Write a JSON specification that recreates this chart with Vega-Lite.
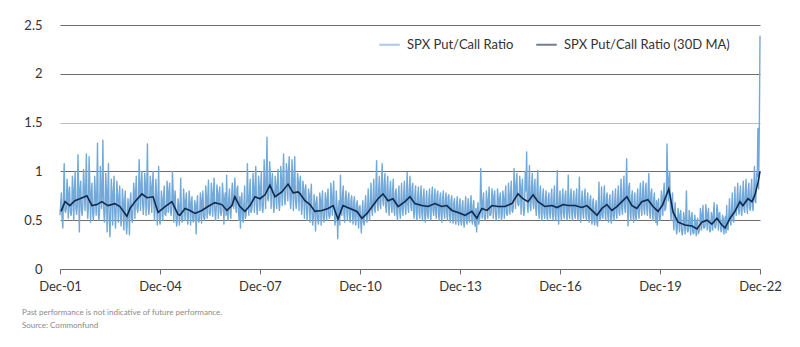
{
"$schema":"https://vega.github.io/schema/vega-lite/v6.json",
"width":700,"height":244,
"autosize":{"type":"none"},
"padding":{"left":60,"top":25,"right":40,"bottom":78},
"background":"white",
"config":{"view":{"stroke":null},"font":"Lato"},
"title":{"text":["Past performance is not indicative of future performance.","Source: Commonfund"],"orient":"bottom","anchor":"start","frame":"group","dx":-38,"offset":16,"fontSize":8,"font":"Lato","fontWeight":"normal","color":"#8a8a8a","lineHeight":13},
"datasets":{
"raw":[
{"d":"2001-12-01","v":0.55},{"d":"2001-12-08","v":0.66},{"d":"2001-12-16","v":0.78},{"d":"2001-12-24","v":0.52},
{"d":"2002-01-01","v":0.42},{"d":"2002-01-08","v":0.74},{"d":"2002-01-16","v":1.08},{"d":"2002-01-24","v":0.60},
{"d":"2002-02-01","v":0.58},{"d":"2002-02-08","v":0.62},{"d":"2002-02-16","v":0.92},{"d":"2002-02-24","v":0.80},
{"d":"2002-03-01","v":0.52},{"d":"2002-03-08","v":0.72},{"d":"2002-03-16","v":0.84},{"d":"2002-03-24","v":0.58},
{"d":"2002-04-01","v":0.55},{"d":"2002-04-08","v":0.60},{"d":"2002-04-16","v":0.95},{"d":"2002-04-24","v":0.78},
{"d":"2002-05-01","v":0.50},{"d":"2002-05-08","v":0.80},{"d":"2002-05-16","v":1.0},{"d":"2002-05-24","v":0.62},
{"d":"2002-06-01","v":0.56},{"d":"2002-06-08","v":0.64},{"d":"2002-06-16","v":1.17},{"d":"2002-06-24","v":0.82},
{"d":"2002-07-01","v":0.38},{"d":"2002-07-08","v":0.80},{"d":"2002-07-16","v":0.90},{"d":"2002-07-24","v":0.60},
{"d":"2002-08-01","v":0.55},{"d":"2002-08-08","v":0.66},{"d":"2002-08-16","v":1.02},{"d":"2002-08-24","v":0.84},
{"d":"2002-09-01","v":0.60},{"d":"2002-09-08","v":0.82},{"d":"2002-09-16","v":1.18},{"d":"2002-09-24","v":0.64},
{"d":"2002-10-01","v":0.52},{"d":"2002-10-08","v":0.62},{"d":"2002-10-16","v":1.15},{"d":"2002-10-24","v":0.86},
{"d":"2002-11-01","v":0.48},{"d":"2002-11-08","v":0.74},{"d":"2002-11-16","v":0.88},{"d":"2002-11-24","v":0.58},
{"d":"2002-12-01","v":0.50},{"d":"2002-12-08","v":0.60},{"d":"2002-12-16","v":0.95},{"d":"2002-12-24","v":0.76},
{"d":"2003-01-01","v":0.55},{"d":"2003-01-08","v":0.78},{"d":"2003-01-16","v":1.29},{"d":"2003-01-24","v":0.58},
{"d":"2003-02-01","v":0.50},{"d":"2003-02-08","v":0.60},{"d":"2003-02-16","v":1.05},{"d":"2003-02-24","v":0.82},
{"d":"2003-03-01","v":0.62},{"d":"2003-03-08","v":0.76},{"d":"2003-03-16","v":1.32},{"d":"2003-03-24","v":0.62},
{"d":"2003-04-01","v":0.48},{"d":"2003-04-08","v":0.58},{"d":"2003-04-16","v":0.98},{"d":"2003-04-24","v":0.80},
{"d":"2003-05-01","v":0.38},{"d":"2003-05-08","v":0.74},{"d":"2003-05-16","v":1.08},{"d":"2003-05-24","v":0.52},
{"d":"2003-06-01","v":0.33},{"d":"2003-06-08","v":0.55},{"d":"2003-06-16","v":0.92},{"d":"2003-06-24","v":0.78},
{"d":"2003-07-01","v":0.45},{"d":"2003-07-08","v":0.74},{"d":"2003-07-16","v":0.95},{"d":"2003-07-24","v":0.58},
{"d":"2003-08-01","v":0.42},{"d":"2003-08-08","v":0.60},{"d":"2003-08-16","v":0.90},{"d":"2003-08-24","v":0.76},
{"d":"2003-09-01","v":0.48},{"d":"2003-09-08","v":0.70},{"d":"2003-09-16","v":0.85},{"d":"2003-09-24","v":0.55},
{"d":"2003-10-01","v":0.44},{"d":"2003-10-08","v":0.52},{"d":"2003-10-16","v":0.82},{"d":"2003-10-24","v":0.70},
{"d":"2003-11-01","v":0.40},{"d":"2003-11-08","v":0.64},{"d":"2003-11-16","v":0.80},{"d":"2003-11-24","v":0.50},
{"d":"2003-12-01","v":0.36},{"d":"2003-12-08","v":0.48},{"d":"2003-12-16","v":0.72},{"d":"2003-12-24","v":0.62},
{"d":"2004-01-01","v":0.35},{"d":"2004-01-08","v":0.70},{"d":"2004-01-16","v":0.78},{"d":"2004-01-24","v":0.52},
{"d":"2004-02-01","v":0.48},{"d":"2004-02-08","v":0.60},{"d":"2004-02-16","v":0.88},{"d":"2004-02-24","v":0.76},
{"d":"2004-03-01","v":0.52},{"d":"2004-03-08","v":0.78},{"d":"2004-03-16","v":0.95},{"d":"2004-03-24","v":0.62},
{"d":"2004-04-01","v":0.58},{"d":"2004-04-08","v":0.66},{"d":"2004-04-16","v":1.12},{"d":"2004-04-24","v":0.84},
{"d":"2004-05-01","v":0.60},{"d":"2004-05-08","v":0.86},{"d":"2004-05-16","v":1.0},{"d":"2004-05-24","v":0.68},
{"d":"2004-06-01","v":0.56},{"d":"2004-06-08","v":0.68},{"d":"2004-06-16","v":0.98},{"d":"2004-06-24","v":0.86},
{"d":"2004-07-01","v":0.55},{"d":"2004-07-08","v":0.82},{"d":"2004-07-16","v":1.28},{"d":"2004-07-24","v":0.64},
{"d":"2004-08-01","v":0.56},{"d":"2004-08-08","v":0.66},{"d":"2004-08-16","v":0.95},{"d":"2004-08-24","v":0.84},
{"d":"2004-09-01","v":0.58},{"d":"2004-09-08","v":0.84},{"d":"2004-09-16","v":1.0},{"d":"2004-09-24","v":0.66},
{"d":"2004-10-01","v":0.50},{"d":"2004-10-08","v":0.60},{"d":"2004-10-16","v":0.92},{"d":"2004-10-24","v":0.76},
{"d":"2004-11-01","v":0.45},{"d":"2004-11-08","v":0.66},{"d":"2004-11-16","v":1.05},{"d":"2004-11-24","v":0.52},
{"d":"2004-12-01","v":0.46},{"d":"2004-12-08","v":0.54},{"d":"2004-12-16","v":0.80},{"d":"2004-12-24","v":0.70},
{"d":"2005-01-01","v":0.50},{"d":"2005-01-08","v":0.72},{"d":"2005-01-16","v":0.85},{"d":"2005-01-24","v":0.56},
{"d":"2005-02-01","v":0.55},{"d":"2005-02-08","v":0.60},{"d":"2005-02-16","v":0.90},{"d":"2005-02-24","v":0.76},
{"d":"2005-03-01","v":0.58},{"d":"2005-03-08","v":0.76},{"d":"2005-03-16","v":0.88},{"d":"2005-03-24","v":0.60},
{"d":"2005-04-01","v":0.55},{"d":"2005-04-08","v":0.62},{"d":"2005-04-16","v":1.0},{"d":"2005-04-24","v":0.80},
{"d":"2005-05-01","v":0.48},{"d":"2005-05-08","v":0.70},{"d":"2005-05-16","v":0.80},{"d":"2005-05-24","v":0.55},
{"d":"2005-06-01","v":0.44},{"d":"2005-06-08","v":0.50},{"d":"2005-06-16","v":0.72},{"d":"2005-06-24","v":0.64},
{"d":"2005-07-01","v":0.45},{"d":"2005-07-08","v":0.64},{"d":"2005-07-16","v":0.93},{"d":"2005-07-24","v":0.50},
{"d":"2005-08-01","v":0.48},{"d":"2005-08-08","v":0.52},{"d":"2005-08-16","v":0.82},{"d":"2005-08-24","v":0.68},
{"d":"2005-09-01","v":0.50},{"d":"2005-09-08","v":0.70},{"d":"2005-09-16","v":0.78},{"d":"2005-09-24","v":0.55},
{"d":"2005-10-01","v":0.46},{"d":"2005-10-08","v":0.54},{"d":"2005-10-16","v":0.80},{"d":"2005-10-24","v":0.70},
{"d":"2005-11-01","v":0.45},{"d":"2005-11-08","v":0.66},{"d":"2005-11-16","v":0.74},{"d":"2005-11-24","v":0.52},
{"d":"2005-12-01","v":0.48},{"d":"2005-12-08","v":0.52},{"d":"2005-12-16","v":0.70},{"d":"2005-12-24","v":0.64},
{"d":"2006-01-01","v":0.36},{"d":"2006-01-08","v":0.66},{"d":"2006-01-16","v":0.75},{"d":"2006-01-24","v":0.50},
{"d":"2006-02-01","v":0.48},{"d":"2006-02-08","v":0.52},{"d":"2006-02-16","v":0.78},{"d":"2006-02-24","v":0.68},
{"d":"2006-03-01","v":0.47},{"d":"2006-03-08","v":0.68},{"d":"2006-03-16","v":0.80},{"d":"2006-03-24","v":0.54},
{"d":"2006-04-01","v":0.50},{"d":"2006-04-08","v":0.55},{"d":"2006-04-16","v":0.85},{"d":"2006-04-24","v":0.72},
{"d":"2006-05-01","v":0.52},{"d":"2006-05-08","v":0.72},{"d":"2006-05-16","v":0.91},{"d":"2006-05-24","v":0.57},
{"d":"2006-06-01","v":0.55},{"d":"2006-06-08","v":0.60},{"d":"2006-06-16","v":0.88},{"d":"2006-06-24","v":0.76},
{"d":"2006-07-01","v":0.54},{"d":"2006-07-08","v":0.76},{"d":"2006-07-16","v":0.93},{"d":"2006-07-24","v":0.60},
{"d":"2006-08-01","v":0.50},{"d":"2006-08-08","v":0.60},{"d":"2006-08-16","v":0.86},{"d":"2006-08-24","v":0.78},
{"d":"2006-09-01","v":0.52},{"d":"2006-09-08","v":0.74},{"d":"2006-09-16","v":0.84},{"d":"2006-09-24","v":0.58},
{"d":"2006-10-01","v":0.55},{"d":"2006-10-08","v":0.60},{"d":"2006-10-16","v":0.88},{"d":"2006-10-24","v":0.76},
{"d":"2006-11-01","v":0.46},{"d":"2006-11-08","v":0.70},{"d":"2006-11-16","v":0.78},{"d":"2006-11-24","v":0.55},
{"d":"2006-12-01","v":0.96},{"d":"2006-12-08","v":0.58},{"d":"2006-12-16","v":0.50},{"d":"2006-12-24","v":0.72},
{"d":"2007-01-01","v":0.82},{"d":"2007-01-08","v":0.58},{"d":"2007-01-16","v":0.52},{"d":"2007-01-24","v":0.74},
{"d":"2007-02-01","v":0.88},{"d":"2007-02-08","v":0.66},{"d":"2007-02-16","v":0.62},{"d":"2007-02-24","v":0.82},
{"d":"2007-03-01","v":0.93},{"d":"2007-03-08","v":0.66},{"d":"2007-03-16","v":0.58},{"d":"2007-03-24","v":0.82},
{"d":"2007-04-01","v":0.85},{"d":"2007-04-08","v":0.60},{"d":"2007-04-16","v":0.50},{"d":"2007-04-24","v":0.74},
{"d":"2007-05-01","v":0.42},{"d":"2007-05-08","v":0.66},{"d":"2007-05-16","v":0.78},{"d":"2007-05-24","v":0.52},
{"d":"2007-06-01","v":0.48},{"d":"2007-06-08","v":0.66},{"d":"2007-06-16","v":0.85},{"d":"2007-06-24","v":0.52},
{"d":"2007-07-01","v":0.55},{"d":"2007-07-08","v":0.62},{"d":"2007-07-16","v":1.08},{"d":"2007-07-24","v":0.72},
{"d":"2007-08-01","v":0.55},{"d":"2007-08-08","v":0.74},{"d":"2007-08-16","v":0.92},{"d":"2007-08-24","v":0.58},
{"d":"2007-09-01","v":0.60},{"d":"2007-09-08","v":0.66},{"d":"2007-09-16","v":0.98},{"d":"2007-09-24","v":0.80},
{"d":"2007-10-01","v":0.58},{"d":"2007-10-08","v":0.82},{"d":"2007-10-16","v":1.05},{"d":"2007-10-24","v":0.66},
{"d":"2007-11-01","v":0.56},{"d":"2007-11-08","v":0.66},{"d":"2007-11-16","v":0.95},{"d":"2007-11-24","v":0.84},
{"d":"2007-12-01","v":0.60},{"d":"2007-12-08","v":0.80},{"d":"2007-12-16","v":1.0},{"d":"2007-12-24","v":0.64},
{"d":"2008-01-01","v":0.58},{"d":"2008-01-08","v":0.68},{"d":"2008-01-16","v":1.12},{"d":"2008-01-24","v":0.88},
{"d":"2008-02-01","v":0.62},{"d":"2008-02-08","v":0.92},{"d":"2008-02-16","v":1.35},{"d":"2008-02-24","v":0.72},
{"d":"2008-03-01","v":0.70},{"d":"2008-03-08","v":0.76},{"d":"2008-03-16","v":1.10},{"d":"2008-03-24","v":0.96},
{"d":"2008-04-01","v":0.62},{"d":"2008-04-08","v":0.88},{"d":"2008-04-16","v":0.98},{"d":"2008-04-24","v":0.70},
{"d":"2008-05-01","v":0.58},{"d":"2008-05-08","v":0.66},{"d":"2008-05-16","v":0.95},{"d":"2008-05-24","v":0.84},
{"d":"2008-06-01","v":0.62},{"d":"2008-06-08","v":0.86},{"d":"2008-06-16","v":1.02},{"d":"2008-06-24","v":0.68},
{"d":"2008-07-01","v":0.60},{"d":"2008-07-08","v":0.70},{"d":"2008-07-16","v":1.05},{"d":"2008-07-24","v":0.90},
{"d":"2008-08-01","v":0.65},{"d":"2008-08-08","v":0.92},{"d":"2008-08-16","v":1.18},{"d":"2008-08-24","v":0.74},
{"d":"2008-09-01","v":0.66},{"d":"2008-09-08","v":0.76},{"d":"2008-09-16","v":1.08},{"d":"2008-09-24","v":0.96},
{"d":"2008-10-01","v":0.70},{"d":"2008-10-08","v":0.98},{"d":"2008-10-16","v":1.15},{"d":"2008-10-24","v":0.78},
{"d":"2008-11-01","v":0.62},{"d":"2008-11-08","v":0.72},{"d":"2008-11-16","v":1.12},{"d":"2008-11-24","v":0.92},
{"d":"2008-12-01","v":0.60},{"d":"2008-12-08","v":0.88},{"d":"2008-12-16","v":1.15},{"d":"2008-12-24","v":0.70},
{"d":"2009-01-01","v":0.62},{"d":"2009-01-08","v":0.70},{"d":"2009-01-16","v":0.98},{"d":"2009-01-24","v":0.90},
{"d":"2009-02-01","v":0.60},{"d":"2009-02-08","v":0.86},{"d":"2009-02-16","v":0.95},{"d":"2009-02-24","v":0.68},
{"d":"2009-03-01","v":0.56},{"d":"2009-03-08","v":0.64},{"d":"2009-03-16","v":0.90},{"d":"2009-03-24","v":0.82},
{"d":"2009-04-01","v":0.52},{"d":"2009-04-08","v":0.78},{"d":"2009-04-16","v":0.86},{"d":"2009-04-24","v":0.62},
{"d":"2009-05-01","v":0.50},{"d":"2009-05-08","v":0.60},{"d":"2009-05-16","v":0.82},{"d":"2009-05-24","v":0.76},
{"d":"2009-06-01","v":0.48},{"d":"2009-06-08","v":0.72},{"d":"2009-06-16","v":0.87},{"d":"2009-06-24","v":0.56},
{"d":"2009-07-01","v":0.45},{"d":"2009-07-08","v":0.52},{"d":"2009-07-16","v":0.76},{"d":"2009-07-24","v":0.68},
{"d":"2009-08-01","v":0.39},{"d":"2009-08-08","v":0.66},{"d":"2009-08-16","v":0.74},{"d":"2009-08-24","v":0.52},
{"d":"2009-09-01","v":0.46},{"d":"2009-09-08","v":0.54},{"d":"2009-09-16","v":0.78},{"d":"2009-09-24","v":0.70},
{"d":"2009-10-01","v":0.45},{"d":"2009-10-08","v":0.68},{"d":"2009-10-16","v":0.80},{"d":"2009-10-24","v":0.53},
{"d":"2009-11-01","v":0.48},{"d":"2009-11-08","v":0.55},{"d":"2009-11-16","v":0.78},{"d":"2009-11-24","v":0.70},
{"d":"2009-12-01","v":0.50},{"d":"2009-12-08","v":0.70},{"d":"2009-12-16","v":0.82},{"d":"2009-12-24","v":0.55},
{"d":"2010-01-01","v":0.52},{"d":"2010-01-08","v":0.56},{"d":"2010-01-16","v":0.88},{"d":"2010-01-24","v":0.74},
{"d":"2010-02-01","v":0.55},{"d":"2010-02-08","v":0.74},{"d":"2010-02-16","v":0.90},{"d":"2010-02-24","v":0.58},
{"d":"2010-03-01","v":0.45},{"d":"2010-03-08","v":0.50},{"d":"2010-03-16","v":0.80},{"d":"2010-03-24","v":0.66},
{"d":"2010-04-01","v":0.31},{"d":"2010-04-08","v":0.58},{"d":"2010-04-16","v":0.70},{"d":"2010-04-24","v":0.45},
{"d":"2010-05-01","v":0.96},{"d":"2010-05-08","v":0.64},{"d":"2010-05-16","v":0.55},{"d":"2010-05-24","v":0.76},
{"d":"2010-06-01","v":0.85},{"d":"2010-06-08","v":0.56},{"d":"2010-06-16","v":0.48},{"d":"2010-06-24","v":0.72},
{"d":"2010-07-01","v":0.80},{"d":"2010-07-08","v":0.62},{"d":"2010-07-16","v":0.50},{"d":"2010-07-24","v":0.72},
{"d":"2010-08-01","v":0.78},{"d":"2010-08-08","v":0.55},{"d":"2010-08-16","v":0.48},{"d":"2010-08-24","v":0.70},
{"d":"2010-09-01","v":0.75},{"d":"2010-09-08","v":0.58},{"d":"2010-09-16","v":0.46},{"d":"2010-09-24","v":0.68},
{"d":"2010-10-01","v":0.74},{"d":"2010-10-08","v":0.52},{"d":"2010-10-16","v":0.45},{"d":"2010-10-24","v":0.66},
{"d":"2010-11-01","v":0.70},{"d":"2010-11-08","v":0.56},{"d":"2010-11-16","v":0.42},{"d":"2010-11-24","v":0.64},
{"d":"2010-12-01","v":0.65},{"d":"2010-12-08","v":0.50},{"d":"2010-12-16","v":0.37},{"d":"2010-12-24","v":0.58},
{"d":"2011-01-01","v":0.70},{"d":"2011-01-08","v":0.48},{"d":"2011-01-16","v":0.45},{"d":"2011-01-24","v":0.64},
{"d":"2011-02-01","v":0.75},{"d":"2011-02-08","v":0.55},{"d":"2011-02-16","v":0.48},{"d":"2011-02-24","v":0.65},
{"d":"2011-03-01","v":0.82},{"d":"2011-03-08","v":0.58},{"d":"2011-03-16","v":0.50},{"d":"2011-03-24","v":0.70},
{"d":"2011-04-01","v":0.88},{"d":"2011-04-08","v":0.62},{"d":"2011-04-16","v":0.55},{"d":"2011-04-24","v":0.74},
{"d":"2011-05-01","v":0.92},{"d":"2011-05-08","v":0.62},{"d":"2011-05-16","v":0.58},{"d":"2011-05-24","v":0.80},
{"d":"2011-06-01","v":1.11},{"d":"2011-06-08","v":0.66},{"d":"2011-06-16","v":0.60},{"d":"2011-06-24","v":0.82},
{"d":"2011-07-01","v":0.95},{"d":"2011-07-08","v":0.66},{"d":"2011-07-16","v":0.62},{"d":"2011-07-24","v":0.86},
{"d":"2011-08-01","v":1.08},{"d":"2011-08-08","v":0.70},{"d":"2011-08-16","v":0.65},{"d":"2011-08-24","v":0.88},
{"d":"2011-09-01","v":0.98},{"d":"2011-09-08","v":0.64},{"d":"2011-09-16","v":0.58},{"d":"2011-09-24","v":0.84},
{"d":"2011-10-01","v":0.95},{"d":"2011-10-08","v":0.66},{"d":"2011-10-16","v":0.55},{"d":"2011-10-24","v":0.80},
{"d":"2011-11-01","v":0.90},{"d":"2011-11-08","v":0.64},{"d":"2011-11-16","v":0.58},{"d":"2011-11-24","v":0.82},
{"d":"2011-12-01","v":0.92},{"d":"2011-12-08","v":0.62},{"d":"2011-12-16","v":0.55},{"d":"2011-12-24","v":0.78},
{"d":"2012-01-01","v":0.82},{"d":"2012-01-08","v":0.58},{"d":"2012-01-16","v":0.50},{"d":"2012-01-24","v":0.74},
{"d":"2012-02-01","v":0.85},{"d":"2012-02-08","v":0.60},{"d":"2012-02-16","v":0.52},{"d":"2012-02-24","v":0.74},
{"d":"2012-03-01","v":0.88},{"d":"2012-03-08","v":0.62},{"d":"2012-03-16","v":0.55},{"d":"2012-03-24","v":0.76},
{"d":"2012-04-01","v":0.90},{"d":"2012-04-08","v":0.64},{"d":"2012-04-16","v":0.56},{"d":"2012-04-24","v":0.78},
{"d":"2012-05-01","v":0.99},{"d":"2012-05-08","v":0.66},{"d":"2012-05-16","v":0.58},{"d":"2012-05-24","v":0.82},
{"d":"2012-06-01","v":0.95},{"d":"2012-06-08","v":0.66},{"d":"2012-06-16","v":0.60},{"d":"2012-06-24","v":0.84},
{"d":"2012-07-01","v":0.88},{"d":"2012-07-08","v":0.60},{"d":"2012-07-16","v":0.52},{"d":"2012-07-24","v":0.76},
{"d":"2012-08-01","v":0.85},{"d":"2012-08-08","v":0.58},{"d":"2012-08-16","v":0.50},{"d":"2012-08-24","v":0.74},
{"d":"2012-09-01","v":0.84},{"d":"2012-09-08","v":0.58},{"d":"2012-09-16","v":0.52},{"d":"2012-09-24","v":0.76},
{"d":"2012-10-01","v":0.85},{"d":"2012-10-08","v":0.58},{"d":"2012-10-16","v":0.50},{"d":"2012-10-24","v":0.74},
{"d":"2012-11-01","v":0.82},{"d":"2012-11-08","v":0.56},{"d":"2012-11-16","v":0.48},{"d":"2012-11-24","v":0.72},
{"d":"2012-12-01","v":0.80},{"d":"2012-12-08","v":0.56},{"d":"2012-12-16","v":0.52},{"d":"2012-12-24","v":0.72},
{"d":"2013-01-01","v":0.82},{"d":"2013-01-08","v":0.58},{"d":"2013-01-16","v":0.50},{"d":"2013-01-24","v":0.74},
{"d":"2013-02-01","v":0.84},{"d":"2013-02-08","v":0.60},{"d":"2013-02-16","v":0.55},{"d":"2013-02-24","v":0.74},
{"d":"2013-03-01","v":0.82},{"d":"2013-03-08","v":0.60},{"d":"2013-03-16","v":0.52},{"d":"2013-03-24","v":0.76},
{"d":"2013-04-01","v":0.80},{"d":"2013-04-08","v":0.58},{"d":"2013-04-16","v":0.50},{"d":"2013-04-24","v":0.72},
{"d":"2013-05-01","v":0.78},{"d":"2013-05-08","v":0.56},{"d":"2013-05-16","v":0.48},{"d":"2013-05-24","v":0.72},
{"d":"2013-06-01","v":0.80},{"d":"2013-06-08","v":0.58},{"d":"2013-06-16","v":0.52},{"d":"2013-06-24","v":0.72},
{"d":"2013-07-01","v":0.78},{"d":"2013-07-08","v":0.58},{"d":"2013-07-16","v":0.50},{"d":"2013-07-24","v":0.74},
{"d":"2013-08-01","v":0.76},{"d":"2013-08-08","v":0.55},{"d":"2013-08-16","v":0.48},{"d":"2013-08-24","v":0.70},
{"d":"2013-09-01","v":0.75},{"d":"2013-09-08","v":0.54},{"d":"2013-09-16","v":0.47},{"d":"2013-09-24","v":0.68},
{"d":"2013-10-01","v":0.72},{"d":"2013-10-08","v":0.52},{"d":"2013-10-16","v":0.46},{"d":"2013-10-24","v":0.66},
{"d":"2013-11-01","v":0.74},{"d":"2013-11-08","v":0.52},{"d":"2013-11-16","v":0.45},{"d":"2013-11-24","v":0.66},
{"d":"2013-12-01","v":0.72},{"d":"2013-12-08","v":0.50},{"d":"2013-12-16","v":0.45},{"d":"2013-12-24","v":0.64},
{"d":"2014-01-01","v":0.70},{"d":"2014-01-08","v":0.48},{"d":"2014-01-16","v":0.43},{"d":"2014-01-24","v":0.62},
{"d":"2014-02-01","v":0.74},{"d":"2014-02-08","v":0.50},{"d":"2014-02-16","v":0.46},{"d":"2014-02-24","v":0.64},
{"d":"2014-03-01","v":0.72},{"d":"2014-03-08","v":0.52},{"d":"2014-03-16","v":0.48},{"d":"2014-03-24","v":0.66},
{"d":"2014-04-01","v":0.75},{"d":"2014-04-08","v":0.52},{"d":"2014-04-16","v":0.46},{"d":"2014-04-24","v":0.66},
{"d":"2014-05-01","v":0.70},{"d":"2014-05-08","v":0.49},{"d":"2014-05-16","v":0.44},{"d":"2014-05-24","v":0.62},
{"d":"2014-06-01","v":0.38},{"d":"2014-06-08","v":0.58},{"d":"2014-06-16","v":0.68},{"d":"2014-06-24","v":0.46},
{"d":"2014-07-01","v":0.50},{"d":"2014-07-08","v":0.55},{"d":"2014-07-16","v":1.03},{"d":"2014-07-24","v":0.72},
{"d":"2014-08-01","v":0.52},{"d":"2014-08-08","v":0.68},{"d":"2014-08-16","v":0.78},{"d":"2014-08-24","v":0.54},
{"d":"2014-09-01","v":0.50},{"d":"2014-09-08","v":0.54},{"d":"2014-09-16","v":0.80},{"d":"2014-09-24","v":0.68},
{"d":"2014-10-01","v":0.52},{"d":"2014-10-08","v":0.70},{"d":"2014-10-16","v":0.84},{"d":"2014-10-24","v":0.55},
{"d":"2014-11-01","v":0.55},{"d":"2014-11-08","v":0.58},{"d":"2014-11-16","v":0.82},{"d":"2014-11-24","v":0.74},
{"d":"2014-12-01","v":0.52},{"d":"2014-12-08","v":0.72},{"d":"2014-12-16","v":0.80},{"d":"2014-12-24","v":0.58},
{"d":"2015-01-01","v":0.50},{"d":"2015-01-08","v":0.57},{"d":"2015-01-16","v":0.82},{"d":"2015-01-24","v":0.72},
{"d":"2015-02-01","v":0.52},{"d":"2015-02-08","v":0.72},{"d":"2015-02-16","v":0.78},{"d":"2015-02-24","v":0.57},
{"d":"2015-03-01","v":0.50},{"d":"2015-03-08","v":0.56},{"d":"2015-03-16","v":0.80},{"d":"2015-03-24","v":0.72},
{"d":"2015-04-01","v":0.52},{"d":"2015-04-08","v":0.72},{"d":"2015-04-16","v":0.85},{"d":"2015-04-24","v":0.57},
{"d":"2015-05-01","v":0.55},{"d":"2015-05-08","v":0.58},{"d":"2015-05-16","v":0.88},{"d":"2015-05-24","v":0.74},
{"d":"2015-06-01","v":0.56},{"d":"2015-06-08","v":0.76},{"d":"2015-06-16","v":0.90},{"d":"2015-06-24","v":0.60},
{"d":"2015-07-01","v":0.58},{"d":"2015-07-08","v":0.64},{"d":"2015-07-16","v":1.03},{"d":"2015-07-24","v":0.82},
{"d":"2015-08-01","v":0.62},{"d":"2015-08-08","v":0.86},{"d":"2015-08-16","v":0.98},{"d":"2015-08-24","v":0.68},
{"d":"2015-09-01","v":0.65},{"d":"2015-09-08","v":0.66},{"d":"2015-09-16","v":0.95},{"d":"2015-09-24","v":0.84},
{"d":"2015-10-01","v":0.56},{"d":"2015-10-08","v":0.80},{"d":"2015-10-16","v":0.92},{"d":"2015-10-24","v":0.64},
{"d":"2015-11-01","v":0.55},{"d":"2015-11-08","v":0.62},{"d":"2015-11-16","v":1.0},{"d":"2015-11-24","v":0.80},
{"d":"2015-12-01","v":1.20},{"d":"2015-12-08","v":0.66},{"d":"2015-12-16","v":0.58},{"d":"2015-12-24","v":0.82},
{"d":"2016-01-01","v":1.06},{"d":"2016-01-08","v":0.65},{"d":"2016-01-16","v":0.60},{"d":"2016-01-24","v":0.84},
{"d":"2016-02-01","v":0.98},{"d":"2016-02-08","v":0.68},{"d":"2016-02-16","v":0.62},{"d":"2016-02-24","v":0.86},
{"d":"2016-03-01","v":0.92},{"d":"2016-03-08","v":0.64},{"d":"2016-03-16","v":0.55},{"d":"2016-03-24","v":0.82},
{"d":"2016-04-01","v":1.01},{"d":"2016-04-08","v":0.62},{"d":"2016-04-16","v":0.52},{"d":"2016-04-24","v":0.78},
{"d":"2016-05-01","v":0.85},{"d":"2016-05-08","v":0.58},{"d":"2016-05-16","v":0.50},{"d":"2016-05-24","v":0.74},
{"d":"2016-06-01","v":0.82},{"d":"2016-06-08","v":0.57},{"d":"2016-06-16","v":0.52},{"d":"2016-06-24","v":0.72},
{"d":"2016-07-01","v":0.80},{"d":"2016-07-08","v":0.57},{"d":"2016-07-16","v":0.50},{"d":"2016-07-24","v":0.72},
{"d":"2016-08-01","v":0.78},{"d":"2016-08-08","v":0.58},{"d":"2016-08-16","v":0.52},{"d":"2016-08-24","v":0.72},
{"d":"2016-09-01","v":0.82},{"d":"2016-09-08","v":0.58},{"d":"2016-09-16","v":0.50},{"d":"2016-09-24","v":0.74},
{"d":"2016-10-01","v":0.85},{"d":"2016-10-08","v":0.56},{"d":"2016-10-16","v":0.50},{"d":"2016-10-24","v":0.70},
{"d":"2016-11-01","v":1.01},{"d":"2016-11-08","v":0.57},{"d":"2016-11-16","v":0.46},{"d":"2016-11-24","v":0.72},
{"d":"2016-12-01","v":0.80},{"d":"2016-12-08","v":0.58},{"d":"2016-12-16","v":0.50},{"d":"2016-12-24","v":0.72},
{"d":"2017-01-01","v":0.82},{"d":"2017-01-08","v":0.58},{"d":"2017-01-16","v":0.52},{"d":"2017-01-24","v":0.74},
{"d":"2017-02-01","v":0.80},{"d":"2017-02-08","v":0.58},{"d":"2017-02-16","v":0.50},{"d":"2017-02-24","v":0.72},
{"d":"2017-03-01","v":0.96},{"d":"2017-03-08","v":0.58},{"d":"2017-03-16","v":0.52},{"d":"2017-03-24","v":0.74},
{"d":"2017-04-01","v":0.82},{"d":"2017-04-08","v":0.58},{"d":"2017-04-16","v":0.50},{"d":"2017-04-24","v":0.72},
{"d":"2017-05-01","v":0.80},{"d":"2017-05-08","v":0.58},{"d":"2017-05-16","v":0.52},{"d":"2017-05-24","v":0.72},
{"d":"2017-06-01","v":0.82},{"d":"2017-06-08","v":0.57},{"d":"2017-06-16","v":0.50},{"d":"2017-06-24","v":0.72},
{"d":"2017-07-01","v":0.94},{"d":"2017-07-08","v":0.56},{"d":"2017-07-16","v":0.48},{"d":"2017-07-24","v":0.70},
{"d":"2017-08-01","v":0.80},{"d":"2017-08-08","v":0.57},{"d":"2017-08-16","v":0.52},{"d":"2017-08-24","v":0.72},
{"d":"2017-09-01","v":0.82},{"d":"2017-09-08","v":0.58},{"d":"2017-09-16","v":0.50},{"d":"2017-09-24","v":0.72},
{"d":"2017-10-01","v":0.78},{"d":"2017-10-08","v":0.55},{"d":"2017-10-16","v":0.48},{"d":"2017-10-24","v":0.70},
{"d":"2017-11-01","v":0.75},{"d":"2017-11-08","v":0.53},{"d":"2017-11-16","v":0.46},{"d":"2017-11-24","v":0.68},
{"d":"2017-12-01","v":0.72},{"d":"2017-12-08","v":0.50},{"d":"2017-12-16","v":0.45},{"d":"2017-12-24","v":0.64},
{"d":"2018-01-01","v":0.70},{"d":"2018-01-08","v":0.48},{"d":"2018-01-16","v":0.44},{"d":"2018-01-24","v":0.64},
{"d":"2018-02-01","v":0.89},{"d":"2018-02-08","v":0.52},{"d":"2018-02-16","v":0.50},{"d":"2018-02-24","v":0.68},
{"d":"2018-03-01","v":0.84},{"d":"2018-03-08","v":0.55},{"d":"2018-03-16","v":0.52},{"d":"2018-03-24","v":0.72},
{"d":"2018-04-01","v":0.85},{"d":"2018-04-08","v":0.58},{"d":"2018-04-16","v":0.50},{"d":"2018-04-24","v":0.74},
{"d":"2018-05-01","v":0.78},{"d":"2018-05-08","v":0.56},{"d":"2018-05-16","v":0.48},{"d":"2018-05-24","v":0.70},
{"d":"2018-06-01","v":0.76},{"d":"2018-06-08","v":0.53},{"d":"2018-06-16","v":0.47},{"d":"2018-06-24","v":0.68},
{"d":"2018-07-01","v":0.80},{"d":"2018-07-08","v":0.55},{"d":"2018-07-16","v":0.50},{"d":"2018-07-24","v":0.70},
{"d":"2018-08-01","v":0.82},{"d":"2018-08-08","v":0.57},{"d":"2018-08-16","v":0.52},{"d":"2018-08-24","v":0.72},
{"d":"2018-09-01","v":0.85},{"d":"2018-09-08","v":0.58},{"d":"2018-09-16","v":0.55},{"d":"2018-09-24","v":0.76},
{"d":"2018-10-01","v":0.92},{"d":"2018-10-08","v":0.62},{"d":"2018-10-16","v":0.56},{"d":"2018-10-24","v":0.78},
{"d":"2018-11-01","v":0.95},{"d":"2018-11-08","v":0.64},{"d":"2018-11-16","v":0.58},{"d":"2018-11-24","v":0.82},
{"d":"2018-12-01","v":1.13},{"d":"2018-12-08","v":0.66},{"d":"2018-12-16","v":0.44},{"d":"2018-12-24","v":0.84},
{"d":"2019-01-01","v":0.88},{"d":"2019-01-08","v":0.57},{"d":"2019-01-16","v":0.50},{"d":"2019-01-24","v":0.74},
{"d":"2019-02-01","v":0.80},{"d":"2019-02-08","v":0.56},{"d":"2019-02-16","v":0.48},{"d":"2019-02-24","v":0.72},
{"d":"2019-03-01","v":0.78},{"d":"2019-03-08","v":0.55},{"d":"2019-03-16","v":0.50},{"d":"2019-03-24","v":0.70},
{"d":"2019-04-01","v":0.82},{"d":"2019-04-08","v":0.58},{"d":"2019-04-16","v":0.52},{"d":"2019-04-24","v":0.74},
{"d":"2019-05-01","v":0.88},{"d":"2019-05-08","v":0.62},{"d":"2019-05-16","v":0.55},{"d":"2019-05-24","v":0.78},
{"d":"2019-06-01","v":0.90},{"d":"2019-06-08","v":0.62},{"d":"2019-06-16","v":0.56},{"d":"2019-06-24","v":0.80},
{"d":"2019-07-01","v":0.88},{"d":"2019-07-08","v":0.63},{"d":"2019-07-16","v":0.55},{"d":"2019-07-24","v":0.80},
{"d":"2019-08-01","v":0.98},{"d":"2019-08-08","v":0.60},{"d":"2019-08-16","v":0.52},{"d":"2019-08-24","v":0.78},
{"d":"2019-09-01","v":0.82},{"d":"2019-09-08","v":0.57},{"d":"2019-09-16","v":0.50},{"d":"2019-09-24","v":0.72},
{"d":"2019-10-01","v":0.78},{"d":"2019-10-08","v":0.55},{"d":"2019-10-16","v":0.48},{"d":"2019-10-24","v":0.70},
{"d":"2019-11-01","v":0.45},{"d":"2019-11-08","v":0.66},{"d":"2019-11-16","v":0.72},{"d":"2019-11-24","v":0.52},
{"d":"2019-12-01","v":0.50},{"d":"2019-12-08","v":0.56},{"d":"2019-12-16","v":0.80},{"d":"2019-12-24","v":0.70},
{"d":"2020-01-01","v":0.55},{"d":"2020-01-08","v":0.76},{"d":"2020-01-16","v":0.88},{"d":"2020-01-24","v":0.60},
{"d":"2020-02-01","v":0.62},{"d":"2020-02-08","v":0.68},{"d":"2020-02-16","v":1.28},{"d":"2020-02-24","v":0.88},
{"d":"2020-03-01","v":0.70},{"d":"2020-03-08","v":0.92},{"d":"2020-03-16","v":1.0},{"d":"2020-03-24","v":0.62},
{"d":"2020-04-01","v":0.50},{"d":"2020-04-08","v":0.66},{"d":"2020-04-16","v":0.78},{"d":"2020-04-24","v":0.52},
{"d":"2020-05-01","v":0.40},{"d":"2020-05-08","v":0.58},{"d":"2020-05-16","v":0.68},{"d":"2020-05-24","v":0.45},
{"d":"2020-06-01","v":0.36},{"d":"2020-06-08","v":0.42},{"d":"2020-06-16","v":0.62},{"d":"2020-06-24","v":0.55},
{"d":"2020-07-01","v":0.38},{"d":"2020-07-08","v":0.54},{"d":"2020-07-16","v":0.60},{"d":"2020-07-24","v":0.40},
{"d":"2020-08-01","v":0.35},{"d":"2020-08-08","v":0.40},{"d":"2020-08-16","v":0.58},{"d":"2020-08-24","v":0.52},
{"d":"2020-09-01","v":0.36},{"d":"2020-09-08","v":0.52},{"d":"2020-09-16","v":0.80},{"d":"2020-09-24","v":0.40},
{"d":"2020-10-01","v":0.38},{"d":"2020-10-08","v":0.40},{"d":"2020-10-16","v":0.60},{"d":"2020-10-24","v":0.52},
{"d":"2020-11-01","v":0.35},{"d":"2020-11-08","v":0.50},{"d":"2020-11-16","v":0.58},{"d":"2020-11-24","v":0.38},
{"d":"2020-12-01","v":0.36},{"d":"2020-12-08","v":0.37},{"d":"2020-12-16","v":0.55},{"d":"2020-12-24","v":0.48},
{"d":"2021-01-01","v":0.34},{"d":"2021-01-08","v":0.47},{"d":"2021-01-16","v":0.52},{"d":"2021-01-24","v":0.36},
{"d":"2021-02-01","v":0.38},{"d":"2021-02-08","v":0.40},{"d":"2021-02-16","v":0.62},{"d":"2021-02-24","v":0.52},
{"d":"2021-03-01","v":0.40},{"d":"2021-03-08","v":0.55},{"d":"2021-03-16","v":0.65},{"d":"2021-03-24","v":0.42},
{"d":"2021-04-01","v":0.42},{"d":"2021-04-08","v":0.44},{"d":"2021-04-16","v":0.66},{"d":"2021-04-24","v":0.57},
{"d":"2021-05-01","v":0.40},{"d":"2021-05-08","v":0.55},{"d":"2021-05-16","v":0.62},{"d":"2021-05-24","v":0.42},
{"d":"2021-06-01","v":0.38},{"d":"2021-06-08","v":0.40},{"d":"2021-06-16","v":0.58},{"d":"2021-06-24","v":0.52},
{"d":"2021-07-01","v":0.40},{"d":"2021-07-08","v":0.56},{"d":"2021-07-16","v":0.68},{"d":"2021-07-24","v":0.43},
{"d":"2021-08-01","v":0.42},{"d":"2021-08-08","v":0.46},{"d":"2021-08-16","v":0.66},{"d":"2021-08-24","v":0.60},
{"d":"2021-09-01","v":0.40},{"d":"2021-09-08","v":0.56},{"d":"2021-09-16","v":0.58},{"d":"2021-09-24","v":0.43},
{"d":"2021-10-01","v":0.38},{"d":"2021-10-08","v":0.40},{"d":"2021-10-16","v":0.55},{"d":"2021-10-24","v":0.52},
{"d":"2021-11-01","v":0.36},{"d":"2021-11-08","v":0.48},{"d":"2021-11-16","v":0.54},{"d":"2021-11-24","v":0.37},
{"d":"2021-12-01","v":0.65},{"d":"2021-12-08","v":0.42},{"d":"2021-12-16","v":0.40},{"d":"2021-12-24","v":0.55},
{"d":"2022-01-01","v":0.72},{"d":"2022-01-08","v":0.50},{"d":"2022-01-16","v":0.45},{"d":"2022-01-24","v":0.62},
{"d":"2022-02-01","v":0.78},{"d":"2022-02-08","v":0.50},{"d":"2022-02-16","v":0.48},{"d":"2022-02-24","v":0.64},
{"d":"2022-03-01","v":0.84},{"d":"2022-03-08","v":0.60},{"d":"2022-03-16","v":0.55},{"d":"2022-03-24","v":0.70},
{"d":"2022-04-01","v":0.88},{"d":"2022-04-08","v":0.62},{"d":"2022-04-16","v":0.56},{"d":"2022-04-24","v":0.76},
{"d":"2022-05-01","v":0.85},{"d":"2022-05-08","v":0.60},{"d":"2022-05-16","v":0.55},{"d":"2022-05-24","v":0.74},
{"d":"2022-06-01","v":0.90},{"d":"2022-06-08","v":0.62},{"d":"2022-06-16","v":0.58},{"d":"2022-06-24","v":0.78},
{"d":"2022-07-01","v":0.92},{"d":"2022-07-08","v":0.66},{"d":"2022-07-16","v":0.57},{"d":"2022-07-24","v":0.80},
{"d":"2022-08-01","v":0.88},{"d":"2022-08-08","v":0.63},{"d":"2022-08-16","v":0.60},{"d":"2022-08-24","v":0.80},
{"d":"2022-09-01","v":0.92},{"d":"2022-09-08","v":0.64},{"d":"2022-09-16","v":0.60},{"d":"2022-09-24","v":0.78},
{"d":"2022-10-01","v":1.05},{"d":"2022-10-08","v":0.70},{"d":"2022-10-16","v":0.68},{"d":"2022-10-24","v":0.98},
{"d":"2022-11-01","v":0.95},{"d":"2022-11-08","v":1.44},{"d":"2022-11-16","v":0.82},{"d":"2022-11-24","v":1.50},
{"d":"2022-12-01","v":2.39}
],
"ma":[
{"d":"2001-12-13","v":0.59},{"d":"2002-01-25","v":0.69},{"d":"2002-03-19","v":0.65},{"d":"2002-05-13","v":0.70},{"d":"2002-07-07","v":0.72},{"d":"2002-09-22","v":0.75},{"d":"2002-11-16","v":0.65},
{"d":"2003-01-10","v":0.66},{"d":"2003-03-04","v":0.69},{"d":"2003-05-10","v":0.65},{"d":"2003-07-25","v":0.67},{"d":"2003-09-19","v":0.64},{"d":"2003-12-04","v":0.54},
{"d":"2004-01-07","v":0.62},{"d":"2004-03-01","v":0.69},{"d":"2004-05-16","v":0.77},{"d":"2004-07-10","v":0.73},{"d":"2004-09-16","v":0.74},{"d":"2004-11-10","v":0.58},
{"d":"2005-01-25","v":0.64},{"d":"2005-04-10","v":0.69},{"d":"2005-06-16","v":0.56},{"d":"2005-07-07","v":0.55},{"d":"2005-09-01","v":0.62},{"d":"2005-10-25","v":0.60},{"d":"2005-12-19","v":0.57},
{"d":"2006-03-04","v":0.60},{"d":"2006-05-10","v":0.64},{"d":"2006-07-25","v":0.68},{"d":"2006-10-10","v":0.66},{"d":"2006-12-04","v":0.60},
{"d":"2007-01-28","v":0.65},{"d":"2007-03-01","v":0.74},{"d":"2007-04-25","v":0.64},{"d":"2007-06-19","v":0.59},{"d":"2007-08-13","v":0.65},{"d":"2007-10-07","v":0.74},{"d":"2007-12-01","v":0.72},
{"d":"2008-01-25","v":0.76},{"d":"2008-03-19","v":0.86},{"d":"2008-05-13","v":0.74},{"d":"2008-07-28","v":0.79},{"d":"2008-10-04","v":0.87},{"d":"2008-11-28","v":0.78},
{"d":"2009-01-22","v":0.79},{"d":"2009-02-13","v":0.77},{"d":"2009-04-07","v":0.70},{"d":"2009-06-01","v":0.66},{"d":"2009-07-25","v":0.59},{"d":"2009-10-10","v":0.60},{"d":"2009-12-16","v":0.62},
{"d":"2010-02-10","v":0.65},{"d":"2010-04-04","v":0.51},{"d":"2010-05-28","v":0.65},{"d":"2010-08-13","v":0.62},{"d":"2010-10-28","v":0.59},{"d":"2010-12-22","v":0.52},
{"d":"2011-02-16","v":0.57},{"d":"2011-04-22","v":0.65},{"d":"2011-06-16","v":0.72},{"d":"2011-08-10","v":0.77},{"d":"2011-10-04","v":0.70},{"d":"2011-11-28","v":0.72},
{"d":"2012-01-22","v":0.64},{"d":"2012-04-07","v":0.69},{"d":"2012-06-01","v":0.74},{"d":"2012-07-25","v":0.67},{"d":"2012-10-10","v":0.65},{"d":"2012-12-16","v":0.64},
{"d":"2013-03-01","v":0.67},{"d":"2013-05-16","v":0.64},{"d":"2013-07-10","v":0.65},{"d":"2013-09-04","v":0.60},{"d":"2013-11-10","v":0.58},
{"d":"2014-01-25","v":0.55},{"d":"2014-04-10","v":0.59},{"d":"2014-06-04","v":0.52},{"d":"2014-07-28","v":0.62},{"d":"2014-09-22","v":0.60},{"d":"2014-11-16","v":0.65},
{"d":"2015-01-22","v":0.64},{"d":"2015-04-07","v":0.64},{"d":"2015-06-22","v":0.67},{"d":"2015-08-28","v":0.77},{"d":"2015-10-22","v":0.72},{"d":"2015-12-16","v":0.69},
{"d":"2016-02-10","v":0.76},{"d":"2016-04-04","v":0.69},{"d":"2016-06-19","v":0.64},{"d":"2016-09-04","v":0.65},{"d":"2016-10-28","v":0.63},
{"d":"2017-01-04","v":0.66},{"d":"2017-02-28","v":0.65},{"d":"2017-05-13","v":0.65},{"d":"2017-07-28","v":0.63},{"d":"2017-09-22","v":0.65},{"d":"2017-11-16","v":0.60},
{"d":"2018-01-10","v":0.55},{"d":"2018-03-04","v":0.62},{"d":"2018-04-28","v":0.66},{"d":"2018-06-22","v":0.60},{"d":"2018-08-16","v":0.64},{"d":"2018-10-10","v":0.69},{"d":"2018-12-04","v":0.74},
{"d":"2019-01-28","v":0.65},{"d":"2019-03-22","v":0.62},{"d":"2019-05-16","v":0.69},{"d":"2019-07-22","v":0.71},{"d":"2019-09-16","v":0.64},{"d":"2019-11-10","v":0.59},
{"d":"2020-01-01","v":0.66},{"d":"2020-01-25","v":0.72},{"d":"2020-03-07","v":0.82},{"d":"2020-04-22","v":0.585},{"d":"2020-06-16","v":0.48},{"d":"2020-09-01","v":0.45},{"d":"2020-11-16","v":0.44},
{"d":"2021-01-10","v":0.41},{"d":"2021-03-04","v":0.48},{"d":"2021-04-28","v":0.50},{"d":"2021-06-22","v":0.46},{"d":"2021-08-16","v":0.52},{"d":"2021-10-10","v":0.45},{"d":"2021-11-13","v":0.42},
{"d":"2022-01-07","v":0.52},{"d":"2022-03-01","v":0.59},{"d":"2022-04-25","v":0.69},{"d":"2022-05-28","v":0.65},{"d":"2022-07-22","v":0.72},{"d":"2022-09-04","v":0.69},{"d":"2022-10-07","v":0.76},{"d":"2022-11-10","v":0.89},{"d":"2022-12-01","v":1.0}
]
},
"encoding":{
"x":{"field":"d","type":"temporal","scale":{"type":"utc","domain":[{"year":2001,"month":12,"date":1,"utc":true},{"year":2022,"month":12,"date":1,"utc":true}]},
"axis":{"title":null,"values":[{"year":2001,"month":12,"date":1,"utc":true},{"year":2004,"month":12,"date":1,"utc":true},{"year":2007,"month":12,"date":1,"utc":true},{"year":2010,"month":12,"date":1,"utc":true},{"year":2013,"month":12,"date":1,"utc":true},{"year":2016,"month":12,"date":1,"utc":true},{"year":2019,"month":12,"date":1,"utc":true},{"year":2022,"month":12,"date":1,"utc":true}],
"labelExpr":"utcFormat(datum.value, '%b-%y')","grid":false,"domain":true,"domainColor":"#6e6e6e","ticks":true,"tickColor":"#6e6e6e","tickSize":5,"labelPadding":6,"labelFontSize":13,"labelColor":"#333333","labelFont":"Lato","labelFlush":false,"labelOverlap":false}},
"y":{"field":"v","type":"quantitative","scale":{"domain":[0,2.5],"nice":false,"zero":true},
"axis":{"title":null,"values":[0,0.5,1,1.5,2,2.5],"format":"~g","grid":true,"gridColor":{"condition":{"test":"datum.value === 1.5","value":"#bdbdbd"},"value":"#6e6e6e"},"gridWidth":1,"domain":false,"ticks":false,"tickSize":0,"labelPadding":18,"labelFontSize":13,"labelColor":"#333333","labelFont":"Lato"}}
},
"layer":[
{"data":{"name":"raw"},"mark":{"type":"line","strokeWidth":1.4,"interpolate":"linear","strokeJoin":"round"},
"encoding":{"color":{"datum":"SPX Put/Call Ratio","type":"nominal","scale":{"domain":["SPX Put/Call Ratio","SPX Put/Call Ratio (30D MA)"],"range":["#72a9d9","#13294b"]},
"legend":{"title":null,"orient":"none","legendX":318,"legendY":8,"direction":"horizontal","symbolType":"stroke","symbolSize":420,"symbolStrokeWidth":2,"symbolOpacity":0.6,"labelFontSize":13,"labelFont":"Lato","labelColor":"#333333","labelOffset":6,"labelLimit":400,"columnPadding":18}}}},
{"data":{"name":"ma"},"mark":{"type":"line","strokeWidth":1.6,"interpolate":"linear"},
"encoding":{"color":{"datum":"SPX Put/Call Ratio (30D MA)","type":"nominal"}}}
]
}
